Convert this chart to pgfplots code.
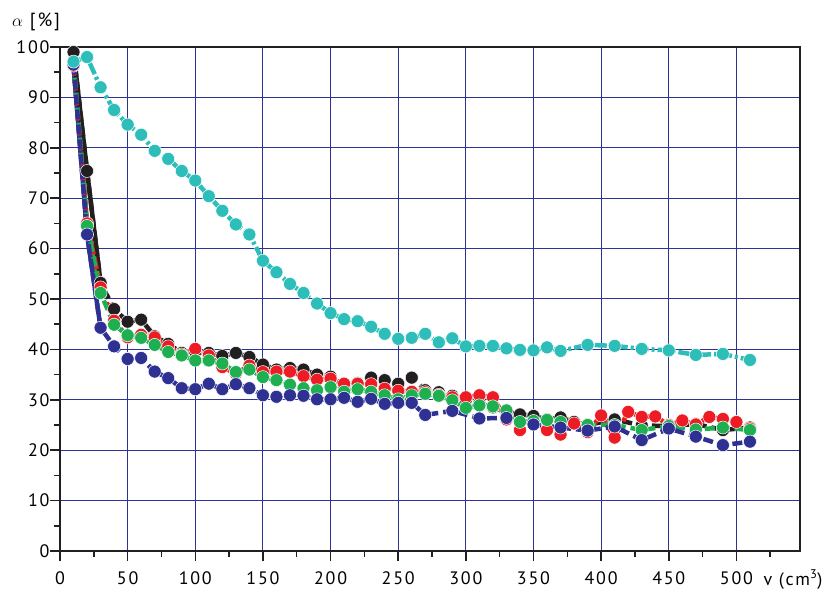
\documentclass[border=0pt]{standalone}
\usepackage{pgfplots}
\pgfplotsset{compat=1.18}
\usepackage{fontspec}
\setmainfont[LetterSpace=10]{PT Sans}
\usetikzlibrary{calc}
\definecolor{cblack}{RGB}{35,31,32}
\definecolor{cred}{RGB}{237,28,36}
\definecolor{cgreen}{RGB}{30,175,80}
\definecolor{cblue}{RGB}{46,49,146}
\definecolor{cteal}{RGB}{45,190,185}
\definecolor{cgrid}{RGB}{45,50,150}
\pgfplotsset{
  ser/.style={#1, line width=4.5pt, dash pattern=on 10pt off 5pt, mark=*, mark size=6.5pt,
    mark options={solid, fill=#1, draw=white, line width=0.5pt}},
  first/.style={#1, line width=4.5pt, solid, mark=none},
}
\begin{document}
\begin{tikzpicture}
\begin{axis}[
  name=ax, scale only axis, width=740pt, height=504pt,
  xmin=0, xmax=547, ymin=0, ymax=100,
  xtick={0,50,...,500}, ytick={0,10,...,100},
  minor xtick={25,75,...,525}, minor ytick={5,15,...,95},
  tick align=outside, tick pos=left,
  major tick length=10pt, minor tick length=6pt,
  tick style={cblack, line width=1.5pt},
  grid=major, major grid style={cgrid, line width=1pt},
  axis line style={cblack, line width=2pt},
  tick label style={font=\fontsize{18}{21}\selectfont},
  /pgf/number format/assume math mode=true,
  xticklabel style={anchor=base, yshift=-23pt},
  yticklabel style={anchor=east, xshift=3pt},
  clip=false,
]
% first segments (drawn solid)
\addplot[first=cblack] coordinates {(10,99.0) (20,75.4) (30,53.2)};
\addplot[first=cred] coordinates {(10,96.3) (20,65.0) (30,52.3)};
\addplot[first=cgreen] coordinates {(10,96.8) (20,64.5) (30,51.2)};
\addplot[first=cblue] coordinates {(10,96.5) (20,62.8) (30,44.3)};
% black
\addplot[ser=cblack] coordinates {
(10,99.0) (20,75.4) (30,53.2) (40,48.0) (50,45.5) (60,45.9) (70,42.6) (80,41.1) (90,39.3) (100,39.5)
(110,39.3) (120,38.7) (130,39.3) (140,38.5) (150,37.0) (160,36.0) (170,36.3) (180,36.0) (190,35.0) (200,34.6)
(210,32.8) (220,33.3) (230,34.4) (240,33.9) (250,33.2) (260,34.4) (270,31.9) (280,31.5) (290,30.8) (300,30.0)
(310,29.3) (320,28.5) (330,27.6) (340,27.1) (350,26.8) (360,26.1) (370,26.5) (380,25.6)
(390,25.0) (410,26.1) (430,24.9) (450,24.8) (470,25.2) (490,24.0) (510,24.5)};
% red
\addplot[ser=cred] coordinates {
(10,96.3) (20,65.0) (30,52.3) (40,45.7) (50,42.4) (60,42.9) (70,42.4) (80,40.6) (90,39.0) (100,40.1)
(110,38.8) (120,36.5) (130,35.2) (140,36.8) (150,35.5) (160,35.6) (170,35.6) (180,34.7) (190,34.0) (200,34.2)
(210,33.2) (220,33.2) (230,33.1) (240,32.2) (250,31.8) (260,31.6) (270,31.5) (280,31.0) (290,30.5) (300,30.5)
(310,30.9) (320,30.5) (330,26.1) (340,24.0) (350,25.4) (360,24.0) (370,23.1) (380,25.3) (390,23.6) (400,26.9)
(410,22.5) (420,27.6) (430,26.6) (440,26.7) (450,25.0) (460,25.9) (470,25.1) (480,26.6) (490,26.2) (500,25.6)
(510,24.3)};
% green
\addplot[ser=cgreen] coordinates {
(10,96.8) (20,64.5) (30,51.2) (40,44.9) (50,42.8) (60,42.3) (70,40.9) (80,39.5) (90,38.8) (100,37.8)
(110,37.8) (120,37.2) (130,35.5) (140,36.0) (150,34.5) (160,33.9) (170,33.0) (180,32.3) (190,31.9) (200,32.5)
(210,31.6) (220,32.1) (230,31.6) (240,30.9) (250,30.1) (260,30.9) (270,31.2) (280,30.8) (290,29.9) (300,28.4)
(310,28.9) (320,28.7) (330,27.9) (340,25.6) (350,25.8) (360,26.0) (370,25.6)
(390,25.0) (410,25.0) (430,24.0) (450,24.8) (470,24.1) (490,24.5) (510,24.0)};
% blue
\addplot[ser=cblue] coordinates {
(10,96.5) (20,62.8) (30,44.3) (40,40.6) (50,38.1) (60,38.3) (70,35.6) (80,34.3) (90,32.3) (100,32.1)
(110,33.2) (120,32.1) (130,33.1) (140,32.3) (150,30.9) (160,30.6) (170,30.9) (180,30.8) (190,30.1) (200,30.1)
(210,30.4) (220,29.6) (230,30.2) (240,29.2) (250,29.4) (260,29.4)
(270,27.0) (290,27.8) (310,26.3) (330,26.4) (350,25.1) (370,24.5) (390,23.9) (410,24.7) (430,22.0)
(450,24.3) (470,22.7) (490,21.0) (510,21.7)};
% teal
\addplot[cteal, line width=4.5pt, dash pattern=on 12pt off 3pt on 3pt off 3pt, mark=*, mark size=6.5pt,
    mark options={solid, fill=cteal, draw=white, line width=0.5pt}] coordinates {
(10,97.1) (20,98.0) (30,92.0) (40,87.5) (50,84.6) (60,82.6) (70,79.4) (80,77.8) (90,75.4) (100,73.5)
(110,70.4) (120,67.5) (130,64.8) (140,62.8) (150,57.6) (160,55.3) (170,53.0) (180,51.2) (190,49.1) (200,47.2)
(210,46.0) (220,45.6) (230,44.5) (240,43.1) (250,42.1) (260,42.3) (270,43.1) (280,41.4) (290,42.2) (300,40.6)
(310,40.7) (320,40.7) (330,40.2) (340,39.9) (350,39.8) (360,40.4) (370,39.7)
(390,40.9) (410,40.7) (430,40.1) (450,39.8) (470,38.9) (490,39.1) (510,37.9)};
\end{axis}
\node[font=\fontsize{19}{22}\selectfont] at ($(ax.north west)+(-24pt,25pt)$) {$\alpha$ [\%]};
\node[anchor=base west, font=\fontsize{18}{21}\selectfont] at ($(ax.south west)+(700pt,-34pt)$) {v (cm\textsuperscript{3})};
\pgfresetboundingbox
\path ($(ax.south west)+(-60pt,-40pt)$) rectangle ($(ax.north east)+(29pt,47pt)$);
\end{tikzpicture}
\end{document}
